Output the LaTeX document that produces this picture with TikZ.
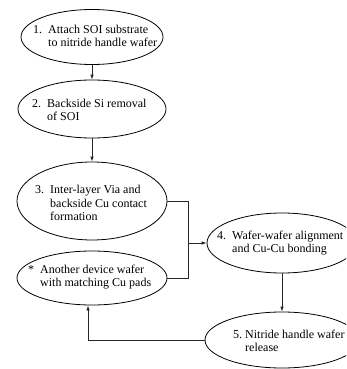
\documentclass[tikz,border=0pt]{standalone}
\usepackage{fontspec}
\setmainfont{Liberation Serif}
\usetikzlibrary{shapes.geometric,arrows.meta}
\begin{document}
\begin{tikzpicture}[x=1pt,y=-1pt,
  ell/.style={draw, ellipse, inner sep=0pt, line width=0.8pt},
  lbl/.style={anchor=west, align=left, inner sep=0pt, font=\fontsize{12}{13.5}\selectfont},
  conn/.style={line width=0.8pt, draw=black!85},
  arr/.style={conn, -{Latex[length=5pt,width=3.5pt]}}]
\clip (0,0) rectangle (346,369);
\fill[white] (0,0) rectangle (346,369);
% ellipses
\node[ell, minimum width=142pt, minimum height=55pt] (e1) at (92,37) {};
\node[ell, minimum width=148pt, minimum height=58pt] (e2) at (92,109) {};
\node[ell, minimum width=150pt, minimum height=78pt] (e3) at (92,201) {};
\node[ell, minimum width=150pt, minimum height=54pt] (st) at (92,278) {};
\node[ell, minimum width=150pt, minimum height=60pt] (e4) at (282,243) {};
\node[ell, minimum width=154pt, minimum height=56pt] (e5) at (282,340) {};
% labels
\node[lbl] (t1) at (33,36) {\makebox[15pt][l]{1.}Attach SOI substrate\\\hspace*{15pt}to nitride handle wafer};
\node[lbl] (t2) at (32,110) {\makebox[15pt][l]{2.}Backside Si removal\\\hspace*{15pt}of SOI};
\node[lbl] (t3) at (35,203) {\makebox[15pt][l]{3.}Inter-layer Via and\\\hspace*{15pt}backside Cu contact\\\hspace*{15pt}formation};
\node[lbl] (ts) at (28,277) {\makebox[12pt][l]{*}Another device wafer\\\hspace*{12pt}with matching Cu pads};
\node[lbl] (t4) at (217,243) {\makebox[15pt][l]{4.}Wafer-wafer alignment\\\hspace*{15pt}and Cu-Cu bonding};
\node[lbl] (t5) at (233,341) {\makebox[12pt][l]{5.}Nitride handle wafer\\\hspace*{12pt}release};
% connectors
\coordinate (m) at (188,243);
\coordinate (j) at (88,340);
\draw[arr] (e1) -- (e2);
\draw[arr] (e2) -- (e3);
\draw[conn] (e3.east) -| (m);
\draw[conn] (st.east) -| (m);
\draw[arr] (m) -- (e4.west);
\draw[arr] (e4) -- (e5);
\draw[arr] (e5.west) -- (j) -- (j |- st.south);
\end{tikzpicture}
\end{document}
